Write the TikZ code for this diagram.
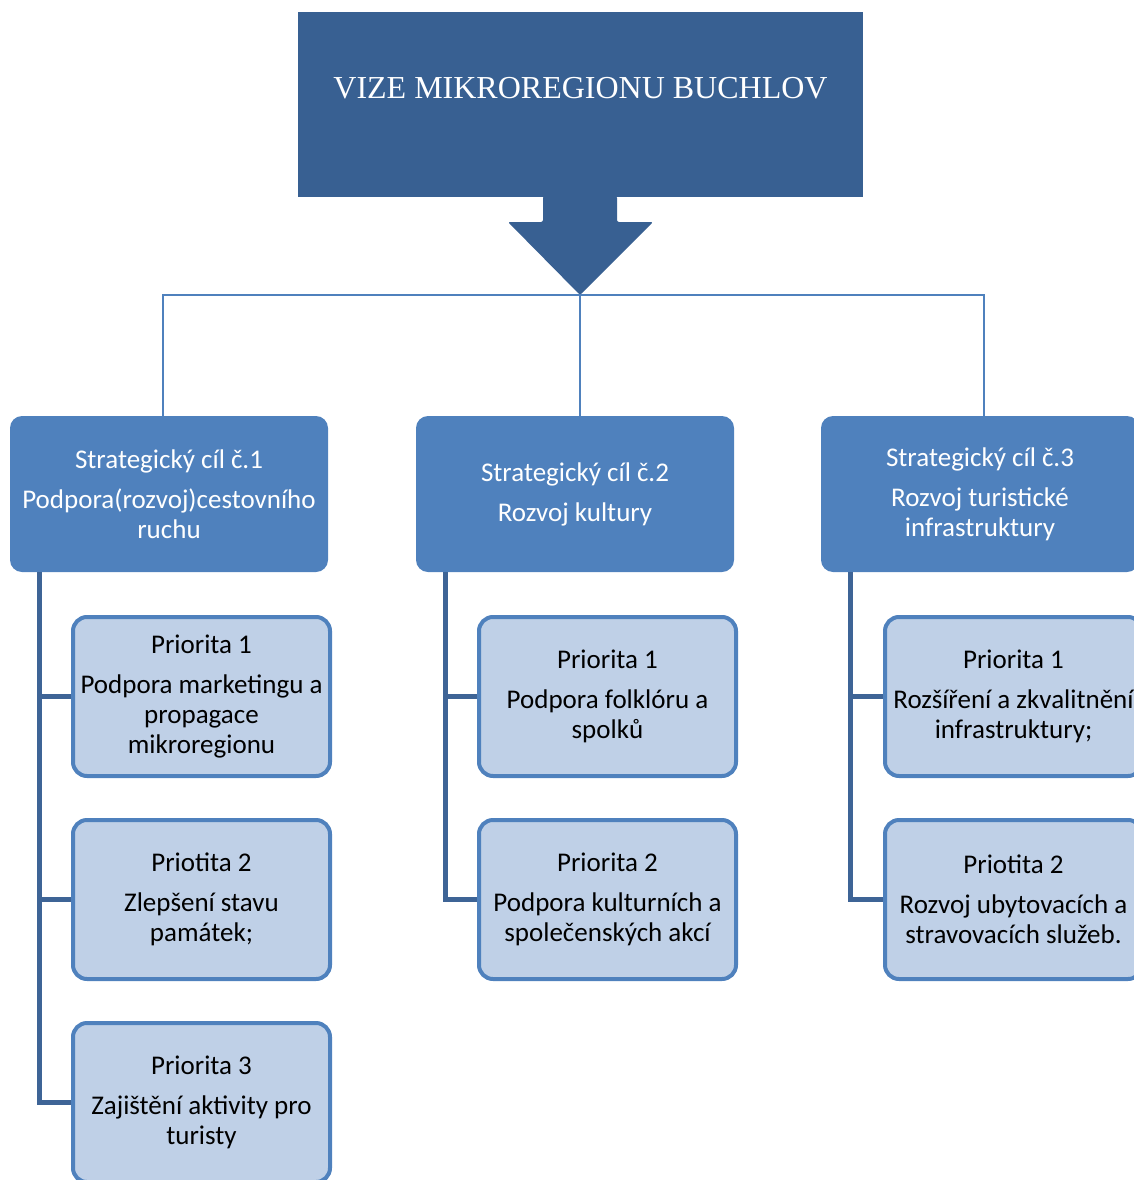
\documentclass[tikz,border=0pt]{standalone}
\usepackage{fontspec}
\setmainfont{Carlito}
\newfontfamily\vizefont{Liberation Serif}
\usetikzlibrary{positioning}

\definecolor{vizeblue}{RGB}{56,96,146}
\definecolor{cilblue}{RGB}{79,129,189}
\definecolor{prifill}{RGB}{191,208,231}
\definecolor{bracketblue}{RGB}{62,100,150}

\tikzset{
	cil/.style={fill=cilblue, rounded corners=12pt, minimum width=318pt,
		minimum height=156pt, text=white, align=center,
		font=\fontsize{27}{30}\selectfont},
	priorita/.style={draw=cilblue, line width=4pt, fill=prifill,
		rounded corners=14pt, minimum width=257pt, minimum height=159pt,
		align=center, font=\fontsize{27}{30}\selectfont},
	link/.style={draw=cilblue, line width=2pt},
	bracket/.style={draw=bracketblue, line width=5pt},
}

\begin{document}
\begin{tikzpicture}[x=1pt,y=-1pt]
		\useasboundingbox (0,0) rectangle (1134,1180);
		\clip (0,0) rectangle (1134,1180);
		
		% vize + sipka
		\node[fill=vizeblue, minimum width=565pt, minimum height=185pt] (vize) at (580.5,104.5) {};
		\node[text=white, font=\vizefont\fontsize{32}{38}\selectfont] (vizetext) at ([yshift=16pt]vize.center) {VIZE MIKROREGIONU BUCHLOV};
		\fill[vizeblue, rounded corners=2pt] (543,196) -- (543,222) -- (508,222) -- (580,295)
		-- (653,222) -- (617,222) -- (617,196) -- cycle;
		\coordinate (hub) at (580,295);
		
		% strategicke cile
		\node[cil] (cil1) at (169,494) {Strategický cíl č.1\\[10pt]Podpora(rozvoj)cestovního\\ruchu};
		\node[cil] (cil2) at (575,494) {Strategický cíl č.2\\[10pt]Rozvoj kultury};
		\node[cil] (cil3) at (980,494) {Strategický cíl č.3\\[10pt]Rozvoj turistické\\infrastruktury};
		
		\draw[link] (hub) -| ([xshift=-6pt]cil1.north);
		\draw[link] (hub) -| ([xshift=4pt]cil3.north);
		\draw[link] (hub) -- (hub |- cil2.north);
		
		% priority
		\node[priorita] (p11) at (201.5,696.5) {Priorita 1\\[10pt]Podpora marketingu a\\propagace\\mikroregionu};
		\node[priorita] (p12) at (201.5,899.5) {Priotita 2\\[10pt]Zlepšení stavu\\památek;};
		\node[priorita] (p13) at (201.5,1102.5) {Priorita 3\\[10pt]Zajištění aktivity pro\\turisty};
		
		\node[priorita] (p21) at (607.5,696.5) {Priorita 1\\[10pt]Podpora folklóru a\\spolků};
		\node[priorita] (p22) at (607.5,899.5) {Priorita 2\\[10pt]Podpora kulturních a\\společenských akcí};
		
		\node[priorita] (p31) at (1013.5,696.5) {Priorita 1\\[10pt]Rozšíření a zkvalitnění\\infrastruktury;};
		\node[priorita] (p32) at (1013.5,899.5) {Priotita 2\\[10pt]Rozvoj ubytovacích a\\stravovacích služeb.};
		
		% zavorky
		\coordinate (b1) at ([xshift=30pt]cil1.south west);
		\coordinate (b2) at ([xshift=30pt]cil2.south west);
		\coordinate (b3) at ([xshift=30pt]cil3.south west);
		
		\draw[bracket] (b1) |- (p13.west);
		\draw[bracket] (p11.west -| b1) -- (p11.west);
		\draw[bracket] (p12.west -| b1) -- (p12.west);
		
		\draw[bracket] (b2) |- (p22.west);
		\draw[bracket] (p21.west -| b2) -- (p21.west);
		
		\draw[bracket] (b3) |- (p32.west);
		\draw[bracket] (p31.west -| b3) -- (p31.west);
\end{tikzpicture}
\end{document}
